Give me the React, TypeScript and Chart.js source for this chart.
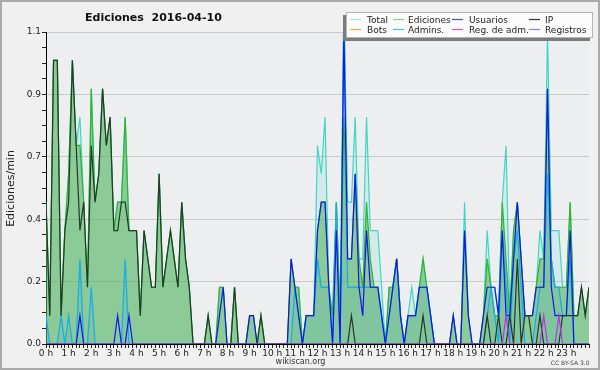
import React, { useEffect, useRef } from 'react';
import { Chart, registerables } from 'chart.js';
Chart.register(...registerables);

// 10-minute buckets, 0 h .. 24 h (145 points), values in edits/min
const total = [
  .5, .1, 1.0, 1.0, .1, .4,   .6, 1.0, .7, .8, .5, .2,   .9, .5, .6, .9, .7, .8,   .4, .5, .5, .8, .4, .4,
  .4, .1, .4, .3, .2, .2,     .6, .2, .3, .4, .3, .2,    .5, .3, .2, 0, 0, 0,      0, .1, 0, 0, .2, .2,
  0, 0, .2, 0, 0, 0,          .1, .1, 0, .1, 0, 0,       0, 0, 0, 0, 0, .3,        .2, .2, 0, .1, .1, .1,
  .7, .6, .8, .2, .1, .5,     .1, 1.2, .5, .5, .8, .3,   .3, .8, .4, .4, .4, .2,   0, .2, .2, .3, .1, 0,
  .1, .2, .1, .2, .3, .2,     .1, 0, 0, 0, 0, 0,         .1, 0, 0, .5, .1, 0,      0, 0, .1, .4, .2, .2,
  .1, .5, .7, .1, .4, .5,     .3, .1, .1, .1, .2, .4,    .3, 1.1, .4, .4, .4, .2,  .2, .5, .1, .1, .2, .1,
  .2,
];
const ediciones = [
  .5, .1, 1.0, 1.0, .1, .4,   .6, 1.0, .7, .7, .5, .2,   .9, .5, .6, .9, .7, .8,   .4, .5, .5, .8, .4, .4,
  .4, .1, .4, .3, .2, .2,     .6, .2, .3, .4, .3, .2,    .5, .3, .2, 0, 0, 0,      0, .1, 0, 0, .2, .2,
  0, 0, .2, 0, 0, 0,          .1, .1, 0, .1, 0, 0,       0, 0, 0, 0, 0, .3,        .2, .2, 0, .1, .1, .1,
  .4, .5, .5, .2, .1, .5,     .1, .8, .3, .3, .6, .3,    .2, .5, .3, .2, .2, .1,   0, .2, .2, .3, .1, 0,
  .1, .1, .1, .2, .3, .2,     .1, 0, 0, 0, 0, 0,         .1, 0, 0, .4, .1, 0,      0, 0, .1, .3, .2, .1,
  .1, .5, .3, .1, .4, .5,     .3, .1, .1, .1, .2, .3,    .3, .9, .3, .2, .2, .2,   .2, .5, .1, .1, .2, .1,
  .2,
];
const usuarios = [
  0, 0, 0, 0, 0, 0,           0, 0, 0, .1, 0, 0,         0, 0, 0, 0, 0, 0,         0, .1, 0, 0, .1, 0,
  0, 0, 0, 0, 0, 0,           0, 0, 0, 0, 0, 0,          0, 0, 0, 0, 0, 0,         0, 0, 0, 0, .1, .2,
  0, 0, 0, 0, 0, 0,           .1, .1, 0, 0, 0, 0,        0, 0, 0, 0, 0, .3,        .2, .1, 0, .1, .1, .1,
  .4, .5, .5, .2, 0, .4,      0, 1.1, .3, .3, .6, .2,    .1, .4, .2, .2, .2, .1,   0, .1, .2, .3, .1, 0,
  .1, .1, .1, .2, .2, .2,     .1, 0, 0, 0, 0, 0,         .1, 0, 0, .4, .1, 0,      0, 0, .1, .2, .2, .2,
  .1, .4, .1, .1, .3, .5,     .3, .1, .1, .1, .2, .2,    .2, .9, .2, .1, .1, .1,   .1, .4, 0, 0, 0, 0,
  0,
];
const ip = [
  .5, .1, 1.0, 1.0, .1, .4,   .5, 1.0, .7, .4, .5, .2,   .7, .5, .6, .9, .7, .8,   .4, .4, .5, .5, .4, .4,
  .4, .1, .4, .3, .2, .2,     .6, .2, .3, .4, .3, .2,    .5, .3, .2, 0, 0, 0,      0, .1, 0, 0, 0, 0,
  0, 0, .2, 0, 0, 0,          0, 0, 0, .1, 0, 0,         0, 0, 0, 0, 0, 0,         0, 0, 0, 0, 0, 0,
  0, 0, 0, 0, 0, 0,           0, 0, 0, .1, 0, 0,         0, 0, 0, 0, 0, 0,         0, 0, 0, 0, 0, 0,
  0, 0, 0, 0, .1, 0,          0, 0, 0, 0, 0, 0,          0, 0, 0, 0, 0, 0,         0, 0, 0, .1, 0, 0,
  .1, 0, 0, .1, 0, .3,        0, .1, .1, 0, 0, .1,       0, 0, 0, 0, 0, .1,        .1, .1, .1, .1, .2, .1,
  .2,
];
const admins = [
  .1, 0, 0, 0, .1, 0,         .1, 0, 0, .3, 0, 0,        .2, 0, 0, 0, 0, 0,        0, 0, 0, .3, 0, 0,
  0, 0, 0, 0, 0, 0,           0, 0, 0, 0, 0, 0,          0, 0, 0, 0, 0, 0,         0, 0, 0, 0, 0, 0,
  0, 0, 0, 0, 0, 0,           0, 0, 0, 0, 0, 0,          0, 0, 0, 0, 0, 0,         .2, .1, 0, .1, .1, .1,
  .3, .2, .2, .2, 0, .5,      0, 1.2, .2, .2, .2, .2,    .2, .2, .2, .2, .2, .1,   0, .1, .2, .3, .1, 0,
  .1, .1, .1, .2, .2, .2,     .1, 0, 0, 0, 0, 0,         0, 0, 0, 0, 0, 0,         0, 0, 0, .1, .2, .1,
  0, .4, .2, 0, .3, .4,       .2, 0, 0, 0, .1, .2,       .2, .6, .3, .2, .2, .1,   .1, .3, 0, 0, 0, 0,
  0,
];
const regAdm = [
  0, 0, 0, 0, 0, 0,  0, 0, 0, 0, 0, 0,  0, 0, 0, 0, 0, 0,  0, 0, 0, 0, 0, 0,
  0, 0, 0, 0, 0, 0,  0, 0, 0, 0, 0, 0,  0, 0, 0, 0, 0, 0,  0, 0, 0, 0, 0, 0,
  0, 0, 0, 0, 0, 0,  0, 0, 0, 0, 0, 0,  0, 0, 0, 0, 0, 0,  0, 0, 0, 0, 0, 0,
  0, 0, 0, 0, 0, 0,  0, 0, 0, 0, 0, 0,  0, 0, 0, 0, 0, 0,  0, 0, 0, 0, 0, 0,
  0, 0, 0, 0, 0, 0,  0, 0, 0, 0, 0, 0,  0, 0, 0, 0, 0, 0,  0, 0, 0, 0, 0, 0,
  0, 0, .1, 0, 0, 0, 0, 0, 0, 0, 0, 0,  .1, 0, 0, 0, .1, 0, 0, 0, 0, 0, 0, 0,
  0,
];

const hourLabels = Array.from({ length: 24 }, (_, h) => `${h} h`);
const yTickLabels = ['0.0', '0.2', '0.4', '0.7', '0.9', '1.1'];
const titleText = 'Ediciones  2016-04-10';
const yTitle = 'Ediciones/min';
const legendNames = ['Total', 'Ediciones', 'Usuarios', 'IP', 'Bots', 'Admins.', 'Reg. de adm.', 'Registros'];
const legendColors = ['#a8e6de', '#8fd08f', '#4a4ae6', '#333333', '#ffa040', '#44c4e4', '#cc55dd', '#8282ee'];

const FONT = '"DejaVu Sans", "Liberation Sans", sans-serif';

export default function App() {
  const ref = useRef<HTMLCanvasElement>(null);
  useEffect(() => {
    document.body.style.margin = '0';
    const canvas = ref.current!;
    const pts = (arr: number[]) => arr.map((v, i) => ({ x: i, y: v }));

    const bgPlugin = {
      id: 'bg',
      beforeDraw(chart: any) {
        const { ctx, chartArea: a } = chart;
        ctx.save();
        ctx.fillStyle = '#f0f0f0';
        ctx.fillRect(0, 0, 600, 370);
        ctx.fillStyle = '#edeef0';
        ctx.fillRect(a.left, a.top, a.right - a.left, a.bottom - a.top);
        ctx.restore();
      },
    };

    const overlayPlugin = {
      id: 'overlay',
      afterDraw(chart: any) {
        const ctx = chart.ctx as CanvasRenderingContext2D;
        ctx.save();
        // frame
        ctx.fillStyle = '#aaaaaa';
        ctx.fillRect(0, 0, 600, 2);
        ctx.fillRect(0, 368, 600, 2);
        ctx.fillRect(0, 0, 2, 370);
        ctx.fillRect(598, 0, 2, 370);
        // title
        ctx.fillStyle = '#111';
        ctx.font = `bold 11px ${FONT}`;
        ctx.textAlign = 'left';
        ctx.textBaseline = 'alphabetic';
        ctx.fillText(titleText, 85, 20.5);
        // y title
        ctx.save();
        ctx.translate(13.5, 188.5);
        ctx.rotate(-Math.PI / 2);
        ctx.font = `11px ${FONT}`;
        ctx.textAlign = 'center';
        ctx.fillStyle = '#222';
        ctx.fillText(yTitle, 0, 0);
        ctx.restore();
        // footer
        ctx.font = `8px ${FONT}`;
        ctx.textAlign = 'center';
        ctx.fillStyle = '#333';
        ctx.fillText('wikiscan.org', 300.5, 363.5);
        ctx.font = `6px ${FONT}`;
        ctx.textAlign = 'right';
        ctx.fillStyle = '#444';
        ctx.fillText('CC BY-SA 3.0', 589.5, 364.5, 41);
        // legend
        ctx.fillStyle = '#7c7c7c';
        ctx.fillRect(343, 15, 247, 26);
        ctx.fillStyle = '#fcfcfc';
        ctx.fillRect(346, 12, 247, 26);
        ctx.strokeStyle = '#b4b4b4';
        ctx.lineWidth = 1;
        ctx.strokeRect(346.5, 12.5, 246, 25);
        const lineX = [350, 393, 452, 529];
        const textX = [367, 408, 469, 545];
        const rowY = [19.5, 29.5];
        ctx.font = `9px ${FONT}`;
        ctx.textAlign = 'left';
        legendNames.forEach((name, k) => {
          const col = k % 4;
          const row = Math.floor(k / 4);
          ctx.strokeStyle = legendColors[k];
          ctx.lineWidth = 1.2;
          ctx.beginPath();
          ctx.moveTo(lineX[col], rowY[row]);
          ctx.lineTo(lineX[col] + 11, rowY[row]);
          ctx.stroke();
          ctx.fillStyle = '#222';
          ctx.fillText(name, textX[col], rowY[row] + 3.2);
        });
        ctx.restore();
      },
    };

    const chart = new Chart(canvas, {
      type: 'line',
      data: {
        datasets: [
          { label: 'Total', data: pts(total), borderColor: '#3fd6c6', backgroundColor: 'rgba(64,214,198,0.14)', fill: 'origin', order: 7, borderWidth: 1.2 },
          { label: 'Ediciones', data: pts(ediciones), borderColor: '#2eb42e', backgroundColor: 'rgba(81,176,84,0.55)', fill: 'origin', order: 6, borderWidth: 1.2 },
          { label: 'Admins.', data: pts(admins), borderColor: '#1aaee6', backgroundColor: 'rgba(40,150,220,0.10)', fill: 'origin', order: 4, borderWidth: 1.3 },
          { label: 'Usuarios', data: pts(usuarios), borderColor: '#1414e6', fill: false, order: 3, borderWidth: 1.2 },
          { label: 'IP', data: pts(ip), borderColor: '#263826', fill: false, order: 2, borderWidth: 1.2 },
          { label: 'Reg. de adm.', data: pts(regAdm), borderColor: '#b437e0', fill: false, order: 1, borderWidth: 1.2 },
        ] as any,
      },
      options: {
        responsive: false,
        animation: false,
        devicePixelRatio: 1,
        layout: { padding: { top: 32, right: 11, left: 0, bottom: 0 } },
        elements: { point: { radius: 0 }, line: { tension: 0 } },
        plugins: {
          legend: { display: false },
          title: { display: false },
          tooltip: { enabled: false },
          filler: { drawTime: 'beforeDatasetsDraw' } as any,
        },
        scales: {
          x: {
            type: 'linear',
            min: 0,
            max: 144,
            z: 1,
            afterBuildTicks: (s: any) => {
              s.ticks = Array.from({ length: 145 }, (_, k) => ({ value: k }));
            },
            afterFit: (s: any) => { s.height = 26; },
            grid: { drawOnChartArea: false, tickLength: 4, tickColor: '#222' },
            border: { color: '#000', width: 1 },
            ticks: {
              autoSkip: false,
              maxRotation: 0,
              minRotation: 0,
              padding: 0,
              color: '#222',
              font: { family: FONT, size: 9 },
              callback: (v: any) => {
                const n = Math.round(Number(v));
                return n % 6 === 0 && n < 144 ? hourLabels[n / 6] : '';
              },
            },
          },
          y: {
            min: 0,
            max: 1.1,
            afterBuildTicks: (s: any) => {
              s.ticks = Array.from({ length: 21 }, (_, k) => ({ value: (k * 1.1) / 20 }));
            },
            afterFit: (s: any) => { s.width = 46; },
            grid: {
              color: (c: any) => (c.index % 4 === 0 && c.index > 0 ? '#c9c9c9' : 'rgba(0,0,0,0)'),
              tickLength: 4,
              tickColor: '#222',
            },
            border: { color: '#000', width: 1 },
            ticks: {
              autoSkip: false,
              padding: 1,
              color: '#222',
              font: { family: FONT, size: 9 },
              callback: (_v: any, i: number) => (i % 4 === 0 ? yTickLabels[i / 4] : ''),
            },
          },
        },
      } as any,
      plugins: [bgPlugin, overlayPlugin],
    });
    return () => chart.destroy();
  }, []);
  return (
    <div style={{ position: 'absolute', left: 0, top: 0, width: 600, height: 370 }}>
      <canvas ref={ref} width={600} height={370} />
    </div>
  );
}
